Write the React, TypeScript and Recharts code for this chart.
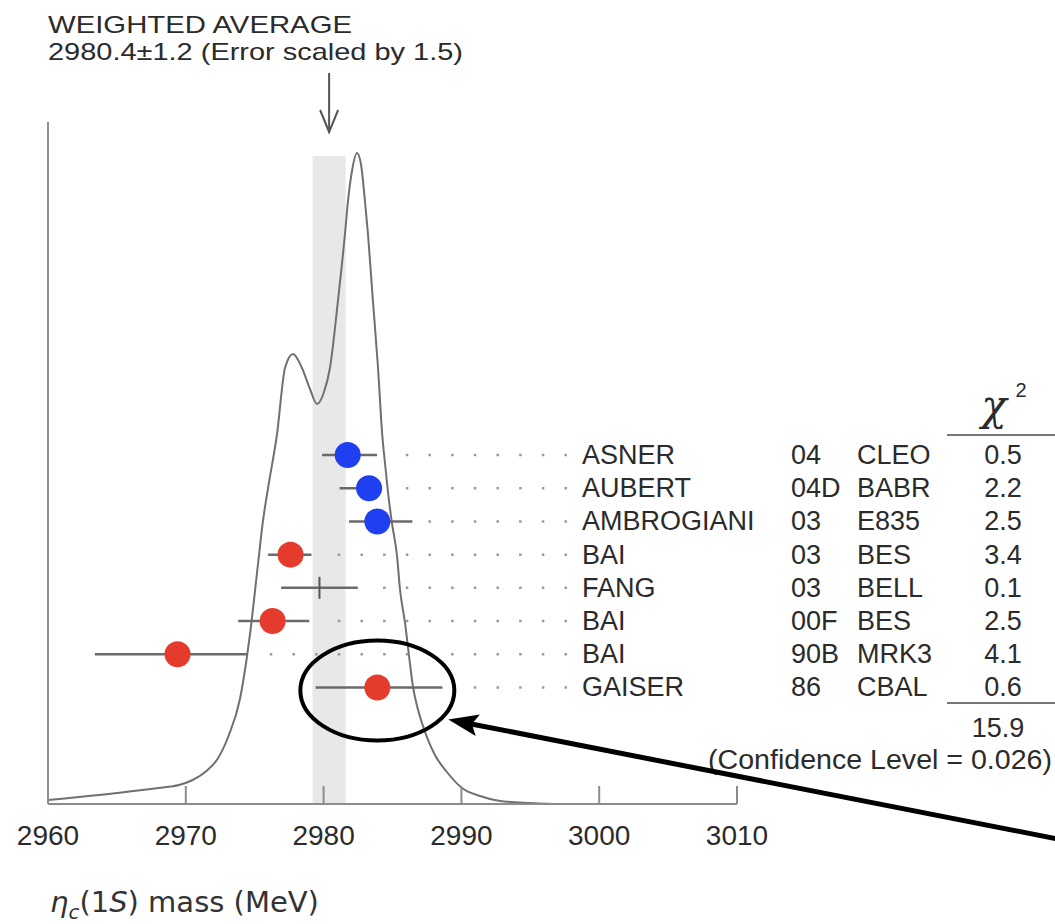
import React from 'react';
import { ComposedChart, Line, Scatter, XAxis, YAxis, ReferenceArea, ErrorBar, Customized } from 'recharts';

// Ideogram curve (mass in MeV, height in plot units)
const curveMass = [2960.0, 2965.0, 2968.0, 2969.5, 2970.5, 2971.5, 2972.3, 2973.1, 2973.93, 2974.66, 2975.24, 2975.6, 2975.97, 2976.62, 2977.2, 2977.78, 2978.43, 2979.01, 2979.52, 2980.03, 2980.46, 2981.04, 2981.55, 2981.77, 2982.06, 2982.42, 2982.71, 2983.0, 2983.22, 2983.58, 2983.95, 2984.24, 2984.46, 2984.67, 2984.96, 2985.33, 2985.54, 2985.91, 2986.2, 2986.49, 2986.8, 2987.14, 2988.08, 2988.95, 2990.04, 2991.35, 2992.8, 2994.98, 2997.16, 3000.06];
const curveHeight = [4, 11, 16, 19, 24, 33, 45, 68, 105, 170, 240, 283, 316, 370, 436, 450, 436, 415, 400, 412, 436, 503, 570, 603, 633, 651, 640, 603, 570, 503, 436, 372, 340, 312, 281, 248, 215, 181, 148, 117, 97, 81, 49, 32, 16, 8, 3, 1, 0, 0];

// Measurements
const names = ['ASNER', 'AUBERT', 'AMBROGIANI', 'BAI', 'FANG', 'BAI', 'BAI', 'GAISER'];
const years = ['04', '04D', '03', '03', '03', '00F', '90B', '86'];
const experiments = ['CLEO', 'BABR', 'E835', 'BES', 'BELL', 'BES', 'MRK3', 'CBAL'];
const masses = [2981.75, 2983.3, 2983.9, 2977.6, 2979.7, 2976.3, 2969.4, 2983.9];
const errLow = [1.86, 2.14, 2.06, 1.63, 2.78, 2.5, 6.0, 4.48];
const errHigh = [2.13, 0.6, 2.54, 1.52, 2.78, 2.66, 5.1, 4.72];
const chi2 = ['0.5', '2.2', '2.5', '3.4', '0.1', '2.5', '4.1', '0.6'];
const markers = ['blue', 'blue', 'blue', 'red', 'cross', 'red', 'red', 'red'];
const highlighted = [false, false, false, false, false, false, false, true];

const xTicks = [2960, 2970, 2980, 2990, 3000, 3010];
const average = 2980.4;
const averageError = 1.2;
const errorScale = 1.5;
const bandHeight = 648;
const chi2Total = '15.9';
const confidenceLevel = '0.026';

const FONT = '"Liberation Sans", Arial, Helvetica, sans-serif';
const AXIS = '#8c8c8c';
const TEXT = '#2b2b2b';
const BLUE = '#1f3ff0';
const RED = '#e53b2c';

const curve = curveMass.map((m, i) => ({ x: m, h: curveHeight[i] }));
const rows = names.map((n, i) => ({
  x: masses[i],
  row: i,
  err: [errLow[i], errHigh[i]],
  name: n,
  year: years[i],
  exp: experiments[i],
  chi2: chi2[i],
  marker: markers[i],
}));
const leaders = rows.map((r, i) => ({ ...r, x: masses[i] + errHigh[i] }));
const highlightRows = rows.filter((_, i) => highlighted[i]);
const averagePoint = [{ x: average, h: 682 }];

const AxisTick = (props: any) => {
  const { x, y, payload } = props;
  return (
    <g>
      <line x1={x} x2={x} y1={y - 18} y2={y} stroke={AXIS} strokeWidth={2} />
      <text x={x} y={y + 41} textAnchor="middle" fontSize={28} fill={TEXT} fontFamily={FONT}>
        {payload.value}
      </text>
    </g>
  );
};

const MarkerShape = (props: any) => {
  const { cx, cy, payload } = props;
  if (payload.marker === 'cross') {
    return <line x1={cx} x2={cx} y1={cy - 11} y2={cy + 11} stroke="#555" strokeWidth={2} />;
  }
  return <circle cx={cx} cy={cy} r={13} fill={payload.marker === 'blue' ? BLUE : RED} />;
};

const LeaderShape = (props: any) => {
  const { cx, cy, payload } = props;
  const textProps = { fontSize: 27, fill: TEXT, fontFamily: FONT, dominantBaseline: 'central' as const };
  return (
    <g>
      <line x1={567} x2={cx + 14} y1={cy} y2={cy} stroke="#9a9a9a" strokeWidth={2.5} strokeDasharray="2.5 20.17" />
      <text x={582} y={cy} {...textProps}>{payload.name}</text>
      <text x={791} y={cy} {...textProps}>{payload.year}</text>
      <text x={857} y={cy} {...textProps}>{payload.exp}</text>
      <text x={1003} y={cy} textAnchor="middle" {...textProps}>{payload.chi2}</text>
    </g>
  );
};

const AverageArrow = (props: any) => {
  const { cx, cy } = props;
  return (
    <g stroke="#555" strokeWidth={2} fill="none">
      <line x1={cx} x2={cx} y1={cy - 49} y2={cy + 10} />
      <polyline points={`${cx - 9},${cy - 12} ${cx},${cy + 10} ${cx + 9},${cy - 12}`} />
    </g>
  );
};

const HighlightShape = (props: any) => {
  const { cx, cy } = props;
  const tipX = cx + 71;
  const tipY = cy + 32;
  const tailX = 1060;
  const tailY = cy + 152;
  const dx = tailX - tipX;
  const dy = tailY - tipY;
  const len = Math.sqrt(dx * dx + dy * dy);
  const ux = dx / len;
  const uy = dy / len;
  const hl = 26;
  const hw = 11;
  const bx = tipX + ux * hl;
  const by = tipY + uy * hl;
  return (
    <g>
      <ellipse cx={cx} cy={cy + 3} rx={77} ry={50} fill="none" stroke="#000" strokeWidth={4} />
      <line x1={bx - ux * 4} y1={by - uy * 4} x2={tailX} y2={tailY} stroke="#000" strokeWidth={5} />
      <polygon
        points={`${tipX},${tipY} ${bx - uy * hw + ux * 4},${by + ux * hw + uy * 4} ${bx - ux * 2},${by - uy * 2} ${bx + uy * hw + ux * 4},${by - ux * hw + uy * 4}`}
        fill="#000"
      />
    </g>
  );
};

const Annotations = () => (
  <g fontFamily={FONT} fill={TEXT}>
    <text x={48} y={33} fontSize={24} textLength={304} lengthAdjust="spacingAndGlyphs">WEIGHTED AVERAGE</text>
    <text x={48} y={60} fontSize={24} textLength={415} lengthAdjust="spacingAndGlyphs">
      {`${average}±${averageError} (Error scaled by ${errorScale})`}
    </text>
    <text x={994} y={420} fontSize={42} textAnchor="middle" fontFamily='"DejaVu Serif", "Liberation Serif", serif' fontStyle="italic">χ</text>
    <text x={1021} y={397} fontSize={20} textAnchor="middle">2</text>
    <line x1={947} x2={1055} y1={435} y2={435} stroke="#777" strokeWidth={2} />
    <line x1={947} x2={1055} y1={703} y2={703} stroke="#777" strokeWidth={2} />
    <text x={998} y={728} fontSize={27} textAnchor="middle" dominantBaseline="central">{chi2Total}</text>
    <text x={708} y={760} fontSize={27} dominantBaseline="central" textLength={344} lengthAdjust="spacingAndGlyphs">
      {`(Confidence Level = ${confidenceLevel})`}
    </text>
    <text x={50} y={912} fontSize={29} fontFamily='"DejaVu Sans", sans-serif' fill="#333">
      <tspan fontStyle="italic">η</tspan>
      <tspan fontSize={20} dy={7} fontStyle="italic">c</tspan>
      <tspan dy={-7}>(1</tspan>
      <tspan fontStyle="italic">S</tspan>
      <tspan>) mass (MeV)</tspan>
    </text>
  </g>
);

export default function App() {
  return (
    <div style={{ position: 'absolute', left: 0, top: 0 }}>
      <ComposedChart width={1055} height={924} margin={{ top: 122, right: 318, bottom: 90, left: 47 }}>
        <XAxis
          type="number"
          dataKey="x"
          domain={[2960, 3010]}
          ticks={xTicks}
          height={30}
          tickSize={0}
          tickMargin={0}
          tickLine={false}
          tick={<AxisTick />}
          axisLine={{ stroke: AXIS, strokeWidth: 2 }}
          interval={0}
        />
        <YAxis
          yAxisId="dens"
          type="number"
          dataKey="h"
          domain={[0, 682]}
          width={1}
          tick={false}
          tickLine={false}
          axisLine={{ stroke: AXIS, strokeWidth: 2 }}
        />
        <YAxis yAxisId="rows" type="number" dataKey="row" domain={[-10.03, 10.51]} reversed hide width={0} />
        <ReferenceArea
          yAxisId="dens"
          x1={average - averageError}
          x2={average + averageError}
          y1={0}
          y2={bandHeight}
          fill="#e8e8e8"
          fillOpacity={1}
          stroke="none"
        />
        <Line
          yAxisId="dens"
          data={curve}
          dataKey="h"
          type="monotone"
          stroke="#707070"
          strokeWidth={2}
          dot={false}
          isAnimationActive={false}
        />
        <Scatter yAxisId="rows" data={leaders} dataKey="row" shape={<LeaderShape />} isAnimationActive={false} />
        <Scatter yAxisId="rows" data={rows} dataKey="row" shape={<MarkerShape />} isAnimationActive={false}>
          <ErrorBar dataKey="err" direction="x" width={0} stroke="#6a6a6a" strokeWidth={2.5} isAnimationActive={false} />
        </Scatter>
        <Scatter yAxisId="dens" data={averagePoint} dataKey="h" shape={<AverageArrow />} isAnimationActive={false} />
        <Customized component={Annotations} />
        <Scatter yAxisId="rows" data={highlightRows} dataKey="row" shape={<HighlightShape />} isAnimationActive={false} />
      </ComposedChart>
    </div>
  );
}
